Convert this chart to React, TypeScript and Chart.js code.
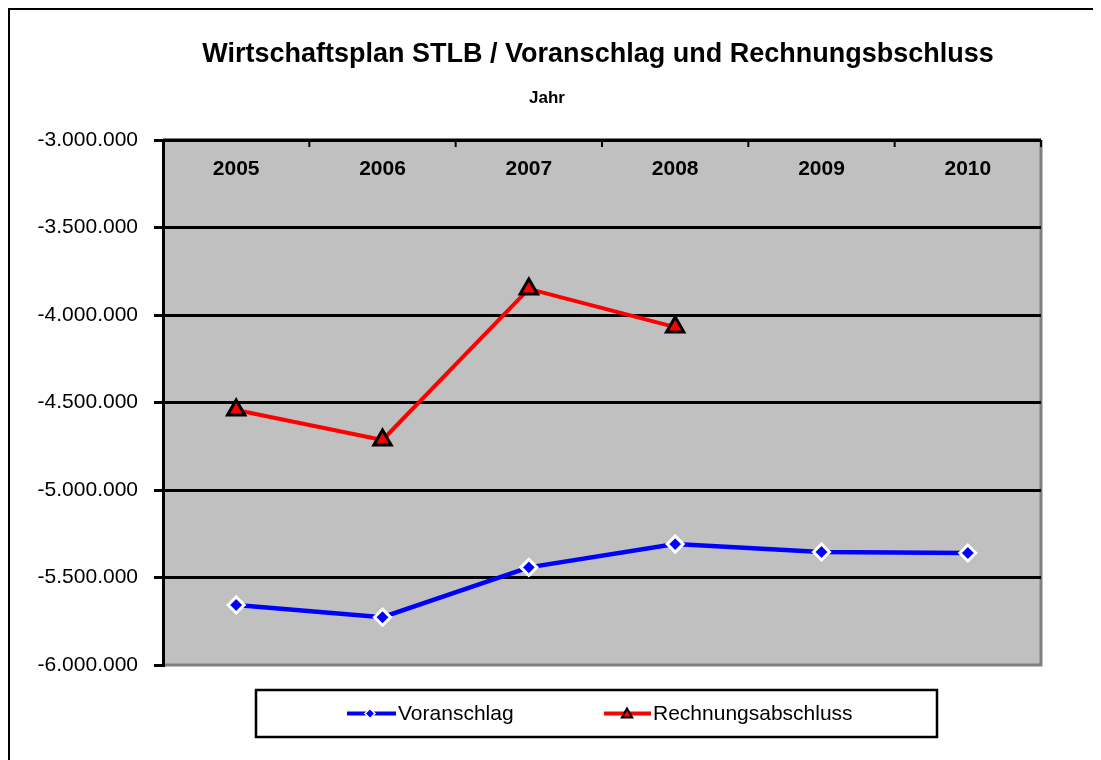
import React, { useEffect, useRef } from 'react';
import { Chart, registerables } from 'chart.js';

Chart.register(...registerables);

// ---- Data ----
const years = ['2005', '2006', '2007', '2008', '2009', '2010'];
const voranschlag = [-5657000, -5727000, -5442000, -5309000, -5354000, -5360000];
const rechnungsabschluss = [-4543000, -4714000, -3851000, -4069000, null, null];
const seriesNames = ['Voranschlag', 'Rechnungsabschluss'];
const yMin = -6000000;
const yMax = -3000000;
const yStep = 500000;
const titleText = 'Wirtschaftsplan STLB / Voranschlag und Rechnungsbschluss';
const axisTitle = 'Jahr';

const FONT = "'Liberation Sans', Arial, sans-serif";
const CW = 1091;
const CH = 750;

function fmt(v: number): string {
  const s = Math.abs(Math.round(v)).toString().replace(/\B(?=(\d{3})+(?!\d))/g, '.');
  return (v < 0 ? '-' : '') + s;
}

function drawDiamond(ctx: CanvasRenderingContext2D, x: number, y: number, r: number) {
  ctx.beginPath();
  ctx.moveTo(x, y - r);
  ctx.lineTo(x + r, y);
  ctx.lineTo(x, y + r);
  ctx.lineTo(x - r, y);
  ctx.closePath();
}

function drawTriangle(ctx: CanvasRenderingContext2D, x: number, y: number, r: number) {
  ctx.beginPath();
  ctx.moveTo(x, y - r);
  ctx.lineTo(x + r * 0.866, y + r * 0.5);
  ctx.lineTo(x - r * 0.866, y + r * 0.5);
  ctx.closePath();
}

const decor = {
  id: 'decor',
  beforeDraw(chart: any) {
    const { ctx, chartArea: a } = chart;
    ctx.save();
    ctx.fillStyle = '#C0C0C0';
    ctx.fillRect(a.left, a.top, a.right - a.left, a.bottom - a.top);
    ctx.strokeStyle = '#808080';
    ctx.lineWidth = 3;
    ctx.beginPath();
    ctx.moveTo(a.right, a.top);
    ctx.lineTo(a.right, a.bottom);
    ctx.lineTo(a.left, a.bottom);
    ctx.stroke();

    ctx.fillStyle = '#000';
    ctx.textAlign = 'center';
    ctx.textBaseline = 'middle';
    ctx.font = `bold 27px ${FONT}`;
    ctx.fillText(titleText, 588, 45);
    ctx.font = `bold 17px ${FONT}`;
    ctx.fillText(axisTitle, 537, 88);
    ctx.restore();
  },
  beforeDatasetsDraw(chart: any) {
    const { ctx, chartArea: a } = chart;
    const x = chart.scales.x;
    ctx.save();
    ctx.strokeStyle = '#000';
    ctx.lineWidth = 3;
    ctx.beginPath();
    ctx.moveTo(a.left, a.top);
    ctx.lineTo(a.right, a.top);
    ctx.stroke();
    ctx.lineWidth = 2;
    const n = years.length;
    for (let i = 0; i <= n; i++) {
      const px =
        i === 0 ? a.left : i === n ? a.right : (x.getPixelForValue(i - 1) + x.getPixelForValue(i)) / 2;
      ctx.beginPath();
      ctx.moveTo(px, a.top);
      ctx.lineTo(px, a.top + 7);
      ctx.stroke();
    }
    ctx.fillStyle = '#000';
    ctx.textAlign = 'center';
    ctx.textBaseline = 'middle';
    ctx.font = `bold 21px ${FONT}`;
    years.forEach((yr, i) => ctx.fillText(yr, x.getPixelForValue(i), a.top + 29));
    ctx.restore();
  },
  afterDraw(chart: any) {
    const { ctx } = chart;
    ctx.save();
    // legend box
    ctx.strokeStyle = '#000';
    ctx.lineWidth = 2.5;
    ctx.strokeRect(246, 680, 681, 47);
    const cy = 703.5;
    // Voranschlag sample
    ctx.strokeStyle = '#0000FF';
    ctx.lineWidth = 4;
    ctx.beginPath();
    ctx.moveTo(337, cy);
    ctx.lineTo(386, cy);
    ctx.stroke();
    drawDiamond(ctx, 360, cy, 5);
    ctx.fillStyle = '#0000FF';
    ctx.fill();
    ctx.strokeStyle = '#FFFFFF';
    ctx.lineWidth = 1.5;
    ctx.stroke();
    // Rechnungsabschluss sample
    ctx.strokeStyle = '#FF0000';
    ctx.lineWidth = 4;
    ctx.beginPath();
    ctx.moveTo(594, cy);
    ctx.lineTo(641, cy);
    ctx.stroke();
    drawTriangle(ctx, 617, cy + 1, 6);
    ctx.fillStyle = '#FF0000';
    ctx.fill();
    ctx.strokeStyle = '#000';
    ctx.lineWidth = 2;
    ctx.stroke();
    // texts
    ctx.fillStyle = '#000';
    ctx.textAlign = 'left';
    ctx.textBaseline = 'middle';
    ctx.font = `21px ${FONT}`;
    ctx.fillText(seriesNames[0], 388, cy + 1);
    ctx.fillText(seriesNames[1], 643, cy + 1);
    ctx.restore();
  },
};

export default function App() {
  const ref = useRef<HTMLCanvasElement | null>(null);

  useEffect(() => {
    document.documentElement.style.overflow = 'hidden';
    document.body.style.overflow = 'hidden';
    if (!ref.current) return;
    const chart = new Chart(ref.current, {
      type: 'line',
      data: {
        labels: years,
        datasets: [
          {
            label: seriesNames[0],
            data: voranschlag,
            borderColor: '#0000FF',
            borderWidth: 4.5,
            tension: 0,
            pointStyle: 'rectRot',
            pointRadius: 8,
            pointBackgroundColor: '#0000FF',
            pointBorderColor: '#FFFFFF',
            pointBorderWidth: 3,
          },
          {
            label: seriesNames[1],
            data: rechnungsabschluss,
            borderColor: '#FF0000',
            borderWidth: 4,
            tension: 0,
            spanGaps: false,
            pointStyle: 'triangle',
            pointRadius: 10,
            pointBackgroundColor: '#FF0000',
            pointBorderColor: '#000000',
            pointBorderWidth: 3,
          },
        ],
      },
      options: {
        responsive: false,
        animation: false,
        layout: { padding: { top: 130, left: 10, right: CW - 1031, bottom: CH - 655 } },
        plugins: {
          legend: { display: false },
          tooltip: { enabled: false },
          title: { display: false },
        },
        scales: {
          x: {
            type: 'category',
            display: false,
            offset: true,
          },
          y: {
            min: yMin,
            max: yMax,
            afterFit: (s: any) => {
              s.width = 143;
            },
            border: { display: true, color: '#000', width: 3 },
            grid: {
              color: (c: any) => (c.tick && c.tick.value === yMin ? 'rgba(0,0,0,0)' : '#000'),
              lineWidth: 3,
              tickColor: '#000',
              tickWidth: 3,
              tickLength: 9,
              drawTicks: true,
            },
            ticks: {
              stepSize: yStep,
              padding: 16,
              color: '#000',
              font: { family: FONT, size: 21 },
              callback: (v: any) => fmt(Number(v)),
            },
          },
        },
      },
      plugins: [decor],
    } as any);
    return () => chart.destroy();
  }, []);

  return (
    <div
      style={{
        width: CW + 2,
        height: CH + 2,
        boxSizing: 'border-box',
        borderLeft: '2px solid #000',
        borderTop: '2px solid #000',
        background: '#fff',
      }}
    >
      <canvas ref={ref} width={CW} height={CH} style={{ display: 'block', width: CW, height: CH }} />
    </div>
  );
}
